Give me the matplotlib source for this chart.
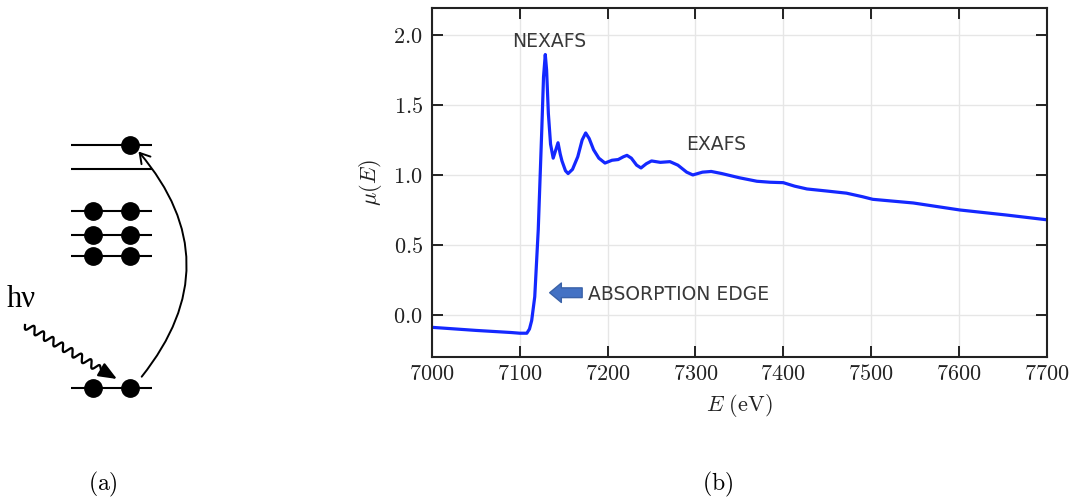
import numpy as np
import matplotlib
matplotlib.use("Agg")
import matplotlib.pyplot as plt
from matplotlib.patches import FancyArrowPatch
from matplotlib.ticker import FuncFormatter

plt.rcParams["mathtext.fontset"] = "cm"

# ---------- XAS spectrum ----------
energy = [7000, 7050, 7090, 7100, 7108, 7111, 7113.5, 7117, 7121, 7125,
          7127, 7129, 7130.5, 7132.5, 7135, 7138, 7141, 7143.5, 7146, 7148,
          7152, 7155, 7160, 7166, 7171, 7175, 7179, 7184, 7190, 7197,
          7205, 7212, 7218, 7222, 7227, 7233, 7238, 7244, 7250, 7260,
          7271, 7280, 7290, 7297, 7308, 7318, 7330, 7350, 7370, 7385,
          7400, 7413, 7427, 7450, 7472, 7490, 7502, 7548, 7601, 7654, 7700]
mu = [-0.088, -0.11, -0.125, -0.13, -0.13, -0.10, -0.04, 0.13, 0.61, 1.32,
      1.70, 1.86, 1.75, 1.44, 1.22, 1.12, 1.18, 1.23, 1.15, 1.10,
      1.03, 1.01, 1.04, 1.13, 1.25, 1.30, 1.26, 1.18, 1.12, 1.085,
      1.105, 1.11, 1.13, 1.14, 1.12, 1.07, 1.05, 1.08, 1.10, 1.09,
      1.095, 1.07, 1.02, 1.00, 1.02, 1.025, 1.01, 0.98, 0.955, 0.948,
      0.945, 0.92, 0.90, 0.885, 0.87, 0.845, 0.826, 0.80, 0.75, 0.714, 0.68]

x_ticks = [7000, 7100, 7200, 7300, 7400, 7500, 7600, 7700]
y_ticks = [0.0, 0.5, 1.0, 1.5, 2.0]

# ---------- energy level diagram (pixel coords of the sketch) ----------
level_y = [145, 169, 211, 235, 256, 388]
level_x = (71, 152)
dots_x = [130, 93, 130, 93, 130, 93, 130, 93, 130]
dots_y = [145, 211, 211, 235, 235, 256, 256, 388, 388]

fig = plt.figure(figsize=(10.77, 4.99), dpi=100)

# sketch layer in pixel coordinates
sk = fig.add_axes([0, 0, 1, 1])
sk.set_xlim(0, 1077)
sk.set_ylim(499, 0)
sk.axis("off")

for ly in level_y:
    sk.plot(level_x, [ly, ly], color="black", lw=1.5, solid_capstyle="butt")
sk.plot(dots_x, dots_y, "o", color="black", ms=12.5)

# photon squiggle
p0 = np.array([25.0, 325.0])
p1 = np.array([106.0, 372.5])
d = p1 - p0
L = np.hypot(*d)
u = d / L
n = np.array([-u[1], u[0]])
s = np.linspace(0, L, 400)
wave = 3.8 * np.sin(2 * np.pi * s / 11.0) * np.clip((L - 4 - s) / 6, 0, 1)
pts = p0[None, :] + s[:, None] * u[None, :] + wave[:, None] * n[None, :]
sk.plot(pts[:, 0], pts[:, 1], color="black", lw=1.6)
sk.annotate("", xy=(117, 379), xytext=(103, 370.8),
            arrowprops=dict(arrowstyle="-|>,head_length=1.1,head_width=0.45",
                            color="black", lw=1.6, mutation_scale=10,
                            shrinkA=0, shrinkB=0))

# excitation arc
arc = FancyArrowPatch((141.7, 376.7), (138.5, 151.5),
                      connectionstyle="arc3,rad=0.41",
                      arrowstyle="->,head_length=0.5,head_width=0.3",
                      mutation_scale=14, lw=1.4, color="black",
                      shrinkA=0, shrinkB=0)
sk.add_patch(arc)

sk.text(7, 306.7, "h\u03bd", fontsize=22, family="Liberation Serif", va="baseline")
sk.text(103, 484, r"$(\mathrm{a})$", fontsize=17, ha="center", va="center")
sk.text(718, 484, r"$(\mathrm{b})$", fontsize=17, ha="center", va="center")

# ---------- spectrum panel ----------
ax = fig.add_axes([432 / 1077, 1 - 357.3 / 499, (1046.7 - 432) / 1077, (357.3 - 8.3) / 499])
ax.plot(energy, mu, color="#1428ff", lw=2.3, solid_joinstyle="round")
ax.set_xlim(7000, 7700)
ax.set_ylim(-0.302, 2.19)
ax.set_xticks(x_ticks)
ax.set_yticks(y_ticks)
ax.xaxis.set_major_formatter(FuncFormatter(lambda v, p: f"${v:.0f}$"))
ax.yaxis.set_major_formatter(FuncFormatter(lambda v, p: f"${v:.1f}$"))
ax.tick_params(direction="in", length=8, width=1.4, top=True, right=True,
               labelsize=16, color="#222222", labelcolor="#222222")
ax.tick_params(axis="y", pad=6.5)
ax.tick_params(axis="x", pad=4.5)
for sp in ax.spines.values():
    sp.set_linewidth(1.5)
    sp.set_color("#222222")
ax.grid(True, color="#e6e6e6", lw=1)
ax.set_axisbelow(True)
ax.set_xlabel(r"$E\ (\mathrm{eV})$", fontsize=16, labelpad=6, color="#222222")
ax.set_ylabel(r"$\mu(E)$", fontsize=16, labelpad=7, color="#222222")

lab = dict(fontsize=13.5, family="DejaVu Sans", color="#383838", va="baseline")
ax.text(7091, 1.916, "NEXAFS", **lab)
ax.text(7289, 1.179, "EXAFS", **lab)
ax.text(7178, 0.107, "ABSORPTION EDGE", **lab)
ax.annotate("", xy=(7134, 0.159), xytext=(7171, 0.159),
            arrowprops=dict(arrowstyle="simple,head_length=0.6,head_width=1.0,tail_width=0.5",
                            mutation_scale=14, color="#4472c4", ec="#3a62a8",
                            shrinkA=0, shrinkB=0))

fig.savefig("out.png", dpi=100)
